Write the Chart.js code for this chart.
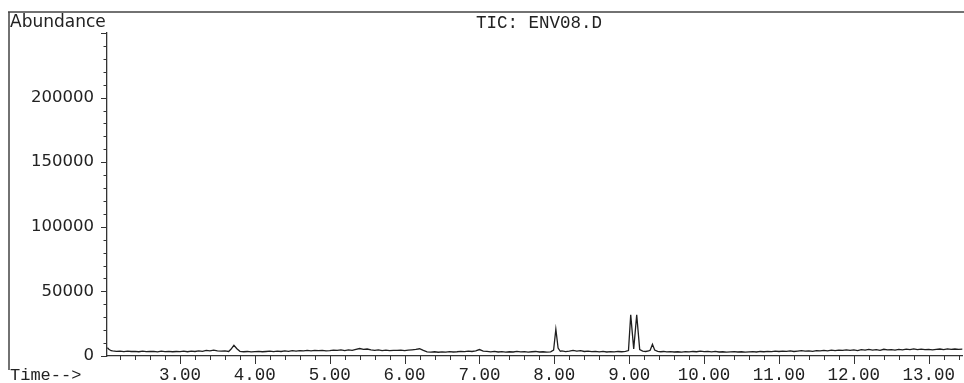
<!DOCTYPE html>
<html>
<head>
<meta charset="utf-8">
<script src="https://cdn.jsdelivr.net/npm/chart.js@4.4.1/dist/chart.umd.min.js"></script>
<style>
  html, body { margin: 0; padding: 0; background: #fff; }
  #box { width: 964px; height: 383px; position: relative; }
</style>
</head>
<body>
<div id="box"><canvas id="tic"></canvas></div>
<script>
// --- Dados do cromatograma (TIC: ENV08.D) ---
const tituloGrafico = 'TIC: ENV08.D';
const rotuloY = 'Abundance';
const rotuloX = 'Time-->';

// tempo de retenção (min)
const tempos = [
  2.03, 2.05, 2.08, 2.10, 2.15, 2.20, 2.25, 2.30, 2.35, 2.40,
  2.45, 2.50, 2.55, 2.60, 2.65, 2.70, 2.75, 2.80, 2.85, 2.90,
  2.95, 3.00, 3.05, 3.10, 3.15, 3.20, 3.25, 3.30, 3.35, 3.40,
  3.45, 3.50, 3.55, 3.60, 3.65, 3.68, 3.72, 3.76, 3.80, 3.85,
  3.90, 3.95, 4.00, 4.05, 4.10, 4.15, 4.20, 4.25, 4.30, 4.35,
  4.40, 4.45, 4.50, 4.55, 4.60, 4.65, 4.70, 4.75, 4.80, 4.85,
  4.90, 4.95, 5.00, 5.05, 5.10, 5.15, 5.20, 5.25, 5.30, 5.35,
  5.40, 5.45, 5.50, 5.55, 5.60, 5.65, 5.70, 5.75, 5.80, 5.85,
  5.90, 5.95, 6.00, 6.05, 6.10, 6.15, 6.20, 6.25, 6.30, 6.35,
  6.40, 6.45, 6.50, 6.55, 6.60, 6.65, 6.70, 6.75, 6.80, 6.85,
  6.90, 6.95, 7.00, 7.05, 7.10, 7.15, 7.20, 7.25, 7.30, 7.35,
  7.40, 7.45, 7.50, 7.55, 7.60, 7.65, 7.70, 7.75, 7.80, 7.85,
  7.90, 7.95, 7.99, 8.02, 8.05, 8.08, 8.10, 8.15, 8.20, 8.25,
  8.30, 8.35, 8.40, 8.45, 8.50, 8.55, 8.60, 8.65, 8.70, 8.75,
  8.80, 8.85, 8.90, 8.95, 8.99, 9.02, 9.06, 9.10, 9.14, 9.18,
  9.22, 9.26, 9.28, 9.31, 9.34, 9.38, 9.42, 9.46, 9.50, 9.55,
  9.60, 9.65, 9.70, 9.75, 9.80, 9.85, 9.90, 9.95, 10.00, 10.05,
  10.10, 10.15, 10.20, 10.25, 10.30, 10.35, 10.40, 10.45, 10.50, 10.55,
  10.60, 10.65, 10.70, 10.75, 10.80, 10.85, 10.90, 10.95, 11.00, 11.05,
  11.10, 11.15, 11.20, 11.25, 11.30, 11.35, 11.40, 11.45, 11.50, 11.55,
  11.60, 11.65, 11.70, 11.75, 11.80, 11.85, 11.90, 11.95, 12.00, 12.05,
  12.10, 12.15, 12.20, 12.25, 12.30, 12.35, 12.40, 12.45, 12.50, 12.55,
  12.60, 12.65, 12.70, 12.75, 12.80, 12.85, 12.90, 12.95, 13.00, 13.05,
  13.10, 13.15, 13.20, 13.25, 13.30, 13.35, 13.40, 13.45
];

// abundância
const abundancia = [
  6500, 5200, 4100, 3900, 3600, 3800, 3400, 3700, 3500, 3600,
  3300, 3700, 3400, 3600, 3500, 3200, 3700, 3400, 3600, 3300,
  3500, 3400, 3700, 3300, 3800, 3500, 4000, 3600, 4300, 3900,
  4600, 4000, 3700, 3900, 3500, 5200, 8300, 5600, 3600, 3300,
  3500, 3200, 3400, 3600, 3300, 3500, 3700, 3400, 3800, 3500,
  3900, 3600, 4100, 3800, 4200, 3900, 4300, 4000, 4400, 4100,
  4300, 3900, 4200, 4600, 4300, 4800, 4100, 4700, 4400, 5200,
  5800, 5100, 5400, 4700, 4400, 4800, 4200, 4500, 4100, 4400,
  4300, 4600, 4200, 4500, 4800, 5100, 5600, 4300, 3200, 3000,
  3300, 2900, 3200, 3000, 3400, 3100, 3300, 3600, 3400, 3800,
  3500, 3900, 5000, 3800, 3600, 3200, 3500, 3100, 3400, 3000,
  3300, 3100, 3500, 3200, 3400, 3000, 3300, 3500, 3100, 3300,
  3000, 3200, 4500, 20700, 6200, 3600, 3900, 3400, 3700, 4300,
  3800, 4200, 3500, 3800, 3400, 3600, 3200, 3500, 3100, 3400,
  3200, 3500, 3300, 3600, 4200, 31800, 5500, 31800, 5000, 3800,
  3500, 3900, 4500, 9000, 4600, 3600, 3300, 3500, 3200, 3400,
  3100, 3300, 3000, 3400, 3200, 3500, 3300, 3800, 3400, 3600,
  3200, 3500, 3100, 3300, 3000, 3200, 3400, 3100, 3300, 3000,
  3200, 3400, 3100, 3500, 3300, 3600, 3400, 3700, 3500, 3800,
  3600, 3900, 3500, 3800, 4100, 3700, 4000, 3600, 4200, 3900,
  4300, 4000, 4500, 4100, 4600, 4300, 4800, 4400, 4700, 4200,
  4900, 4500, 5100, 4600, 4900, 4400, 5200, 4700, 5000, 4600,
  5100, 4800, 5300, 4900, 5500, 5000, 5300, 4900, 5200, 4800,
  5100, 5400, 5000, 5500, 5100, 5400, 5200, 5300
];

// limites dos eixos
const tempoMin = 2.025;
const tempoMax = 13.455;
const abundMax = 250000;

const corTraco = '#1e1e1e';
const corTexto = '#222';

const pontos = tempos.map((t, i) => ({ x: t, y: abundancia[i] }));

// --- Plugin para a moldura, textos e marcas dos eixos ---
const molduraPlugin = {
  id: 'moldura',
  afterDraw(chart) {
    const ctx = chart.ctx;
    const xs = chart.scales.x;
    const ys = chart.scales.y;
    const area = chart.chartArea;
    ctx.save();

    // moldura externa (linha superior e esquerda)
    ctx.strokeStyle = '#444';
    ctx.lineWidth = 1.5;
    ctx.beginPath();
    ctx.moveTo(8, 12);
    ctx.lineTo(964, 12);
    ctx.moveTo(9, 12);
    ctx.lineTo(9, 370);
    ctx.stroke();

    // marcas do eixo Y (a cada 10000, maiores a cada 50000)
    ctx.strokeStyle = '#333';
    ctx.lineWidth = 1;
    ctx.beginPath();
    for (let v = 0; v <= abundMax; v += 10000) {
      const py = Math.round(ys.getPixelForValue(v)) + 0.5;
      const len = v % 50000 === 0 ? 6 : 3.5;
      ctx.moveTo(area.left - len, py);
      ctx.lineTo(area.left, py);
    }
    // marcas do eixo X (a cada 0.2, maiores a cada 1.0)
    for (let k = Math.ceil(tempoMin * 5); k <= Math.floor(tempoMax * 5); k++) {
      const px = Math.round(xs.getPixelForValue(k / 5)) + 0.5;
      const len = k % 5 === 0 ? 8 : 4;
      ctx.moveTo(px, area.bottom);
      ctx.lineTo(px, area.bottom + len);
    }
    ctx.stroke();

    // textos
    ctx.fillStyle = corTexto;
    ctx.textBaseline = 'alphabetic';
    ctx.font = '17px "DejaVu Sans"';
    ctx.textAlign = 'left';
    ctx.fillText(rotuloY, 10, 27);

    ctx.font = '17.5px "Liberation Mono"';
    ctx.textAlign = 'center';
    ctx.fillText(tituloGrafico, 539, 28);

    ctx.font = '17px "Liberation Mono"';
    ctx.textAlign = 'left';
    ctx.fillText(rotuloX, 10, 380);
    ctx.restore();
  }
};

new Chart(document.getElementById('tic'), {
  type: 'line',
  data: {
    datasets: [{
      label: tituloGrafico,
      data: pontos,
      borderColor: corTraco,
      borderWidth: 1.3,
      pointRadius: 0,
      tension: 0,
      fill: false
    }]
  },
  options: {
    responsive: true,
    maintainAspectRatio: false,
    animation: false,
    layout: { padding: { top: 33, right: 1, left: 0, bottom: 0 } },
    plugins: {
      legend: { display: false },
      title: { display: false },
      tooltip: { enabled: false }
    },
    scales: {
      x: {
        type: 'linear',
        min: tempoMin,
        max: tempoMax,
        afterFit: (s) => { s.height = 27; },
        border: { display: true, color: '#333', width: 1.3 },
        grid: { display: false, drawTicks: false },
        ticks: {
          stepSize: 1,
          includeBounds: false,
          autoSkip: false,
          maxRotation: 0,
          padding: 9,
          color: corTexto,
          font: { family: 'Liberation Mono', size: 17.5 },
          callback: (v) => v.toFixed(2)
        }
      },
      y: {
        min: 0,
        max: abundMax,
        afterFit: (s) => { s.width = 107; },
        border: { display: true, color: '#333', width: 1.3 },
        grid: { display: false, drawTicks: false },
        ticks: {
          stepSize: 50000,
          autoSkip: false,
          padding: 13,
          color: corTexto,
          font: { family: 'DejaVu Sans', size: 16.5 },
          callback: (v) => (v >= abundMax ? '' : String(v))
        }
      }
    }
  },
  plugins: [molduraPlugin]
});
</script>
</body>
</html>
